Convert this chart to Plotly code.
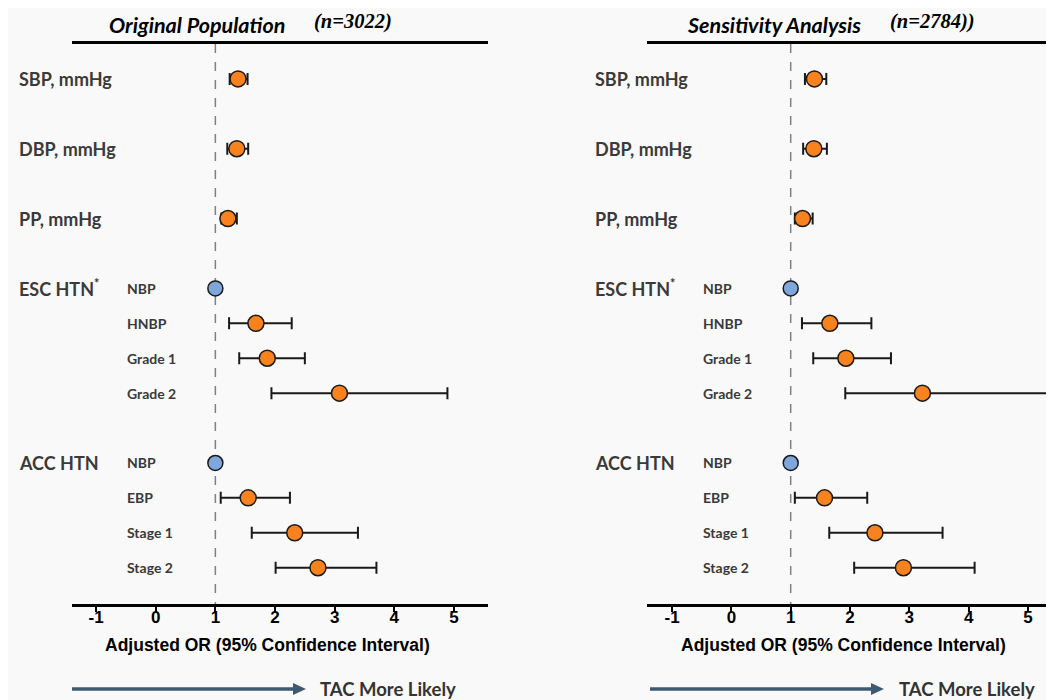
import plotly.graph_objects as go

# ---------------- data ----------------
row_labels = ["SBP", "DBP", "PP", "ESC_NBP", "ESC_HNBP", "ESC_G1", "ESC_G2",
              "ACC_NBP", "ACC_EBP", "ACC_S1", "ACC_S2"]
row_slots = [0, 2, 4, 6, 7, 8, 9, 11, 12, 13, 14]
main_labels = ["SBP, mmHg", "DBP, mmHg", "PP, mmHg", "ESC HTN<sup>*</sup>", "ACC HTN"]
main_label_slots = [0, 2, 4, 6, 11]
sub_labels = ["NBP", "HNBP", "Grade 1", "Grade 2", "NBP", "EBP", "Stage 1", "Stage 2"]
sub_label_slots = [6, 7, 8, 9, 11, 12, 13, 14]
is_reference = [False, False, False, True, False, False, False, True, False, False, False]

# Original population (n=3022)
orig_or = [1.38, 1.36, 1.21, 1.0, 1.68, 1.87, 3.08, 1.0, 1.55, 2.33, 2.72]
orig_lo = [1.24, 1.20, 1.10, 1.0, 1.23, 1.40, 1.94, 1.0, 1.09, 1.61, 2.01]
orig_hi = [1.54, 1.55, 1.36, 1.0, 2.28, 2.50, 4.89, 1.0, 2.25, 3.39, 3.70]

# Sensitivity analysis (n=2784)
sens_or = [1.40, 1.39, 1.20, 1.0, 1.66, 1.93, 3.22, 1.0, 1.57, 2.42, 2.90]
sens_lo = [1.24, 1.21, 1.07, 1.0, 1.19, 1.38, 1.92, 1.0, 1.07, 1.65, 2.07]
sens_hi = [1.60, 1.61, 1.37, 1.0, 2.36, 2.69, 5.40, 1.0, 2.29, 3.56, 4.10]

tick_vals = [-1, 0, 1, 2, 3, 4, 5]
tick_text = ["-1", "0", "1", "2", "3", "4", "5"]

# ---------------- styling ----------------
OFF = 8                      # page body margin offset
W, H = 1054 - OFF, 700 - OFF


def px(x):
    return (x - OFF) / W


def py(y):
    return 1 - (y - OFF) / H


ORANGE = "#F7821E"
BLUE = "#7FA7DB"
BG = "#F9F9F9"
LABEL_FONT = "Lato, 'Open Sans', sans-serif"
ARIAL = "'Liberation Sans', Arial, sans-serif"
ARROW = "#3E5A73"

panels = [
    dict(xa="x", ya="y", dom=[px(72), px(488)], rng=[-1.403, 5.570],
         title="Original Population", n="(n=3022)", tx=107, nx=312,
         lab_x=17, sub_x=125, axt_x=267, arrow_x0=72, arrow_x1=306, tac_x=318,
         orv=orig_or, lo=orig_lo, hi=orig_hi),
    dict(xa="x2", ya="y2", dom=[px(647), 1.0], rng=[-1.422, 5.438],
         title="Sensitivity Analysis", n="(n=2784))", tx=685, nx=888,
         lab_x=593, sub_x=701, axt_x=843, arrow_x0=650, arrow_x1=884, tac_x=897,
         orv=sens_or, lo=sens_lo, hi=sens_hi),
]

fig = go.Figure()
annotations = []
shapes = []

ydom = [py(604), py(44)]
yrng = [15.04, -1.0]

for i, p in enumerate(panels):
    sfx = "" if i == 0 else "2"
    ors, los, his = p["orv"], p["lo"], p["hi"]
    xs = [v for v, r in zip(ors, is_reference) if not r]
    ys = [s for s, r in zip(row_slots, is_reference) if not r]
    ep = [h - v for v, h, r in zip(ors, his, is_reference) if not r]
    em = [v - l for v, l, r in zip(ors, los, is_reference) if not r]
    fig.add_trace(go.Scatter(
        x=xs, y=ys, xaxis=p["xa"], yaxis=p["ya"], mode="markers",
        marker=dict(size=16, color=ORANGE, line=dict(color="#1a1a1a", width=1.5)),
        error_x=dict(type="data", array=ep, arrayminus=em, color="#1a1a1a",
                     thickness=2, width=6),
        showlegend=False, cliponaxis=False))
    rx = [v for v, r in zip(ors, is_reference) if r]
    ry = [s for s, r in zip(row_slots, is_reference) if r]
    fig.add_trace(go.Scatter(
        x=rx, y=ry, xaxis=p["xa"], yaxis=p["ya"], mode="markers",
        marker=dict(size=15, color=BLUE, line=dict(color="#1a1a1a", width=1.5)),
        showlegend=False, cliponaxis=False))

    fig.update_layout(**{
        "xaxis" + sfx: dict(domain=p["dom"], range=p["rng"], anchor="y" + sfx,
                            showgrid=False, zeroline=False, showline=True,
                            linecolor="black", linewidth=3, mirror=True,
                            ticks="outside", ticklen=5, tickwidth=2, tickcolor="black",
                            ticklabelstandoff=-9,
                            tickvals=tick_vals, ticktext=tick_text,
                            tickfont=dict(family=ARIAL, size=17, color="black", weight="bold")),
        "yaxis" + sfx: dict(domain=ydom, range=yrng, anchor="x" + sfx,
                            showgrid=False, zeroline=False, showline=False,
                            showticklabels=False, ticks=""),
    })

    # dashed reference line at OR = 1
    shapes.append(dict(type="line", xref=p["xa"], yref=p["ya"], x0=1, x1=1,
                       y0=yrng[1], y1=yrng[0], layer="below",
                       line=dict(color="#808080", width=1.5, dash="dash")))

    # row labels
    for txt, s in zip(main_labels, main_label_slots):
        annotations.append(dict(text=txt, xref="paper", yref=p["ya"], x=px(p["lab_x"]), y=s,
                                xanchor="left", yanchor="middle", showarrow=False,
                                font=dict(family=LABEL_FONT, size=18, color="#3a3a3a", weight="bold")))
    for txt, s in zip(sub_labels, sub_label_slots):
        annotations.append(dict(text=txt, xref="paper", yref=p["ya"], x=px(p["sub_x"]), y=s,
                                xanchor="left", yanchor="middle", showarrow=False,
                                font=dict(family=LABEL_FONT, size=14, color="#3a3a3a", weight="bold")))

    # titles
    annotations.append(dict(text=p["title"], xref="paper", yref="paper", x=px(p["tx"]),
                            y=py(25), xanchor="left", yanchor="middle", showarrow=False,
                            font=dict(family=LABEL_FONT, size=21.5, color="black",
                                      weight="bold", style="italic")))
    annotations.append(dict(text=p["n"], xref="paper", yref="paper", x=px(p["nx"]),
                            y=py(22), xanchor="left", yanchor="middle", showarrow=False,
                            font=dict(family="'Liberation Serif', 'Times New Roman', serif",
                                      size=20.5, color="black", weight="bold", style="italic")))

    # axis title
    annotations.append(dict(text="Adjusted OR (95% Confidence Interval)", xref="paper", yref="paper",
                            x=px(p["axt_x"]), y=py(645), xanchor="center", yanchor="middle",
                            showarrow=False,
                            font=dict(family=ARIAL, size=17.5, color="black", weight="bold")))

    # bottom arrow (shaft + head)
    ya = py(689)
    shapes.append(dict(type="line", xref="paper", yref="paper",
                       x0=px(p["arrow_x0"]), x1=px(p["arrow_x1"] - 10), y0=ya, y1=ya,
                       line=dict(color=ARROW, width=3.5)))
    hx0, hx1 = px(p["arrow_x1"] - 13), px(p["arrow_x1"])
    hy_up, hy_dn = py(689 - 6), py(689 + 6)
    shapes.append(dict(type="path", xref="paper", yref="paper",
                       path=f"M {hx0} {hy_up} L {hx1} {ya} L {hx0} {hy_dn} Z",
                       fillcolor=ARROW, line=dict(color=ARROW, width=0)))
    annotations.append(dict(text="TAC More Likely", xref="paper", yref="paper", x=px(p["tac_x"]),
                            y=ya, xanchor="left", yanchor="middle", showarrow=False,
                            font=dict(family=LABEL_FONT, size=18.5, color="#333333", weight="bold")))

fig.update_layout(width=W, height=H, margin=dict(l=0, r=0, t=0, b=0),
                  paper_bgcolor=BG, plot_bgcolor=BG,
                  annotations=annotations, shapes=shapes)

fig.write_html("out.html")
